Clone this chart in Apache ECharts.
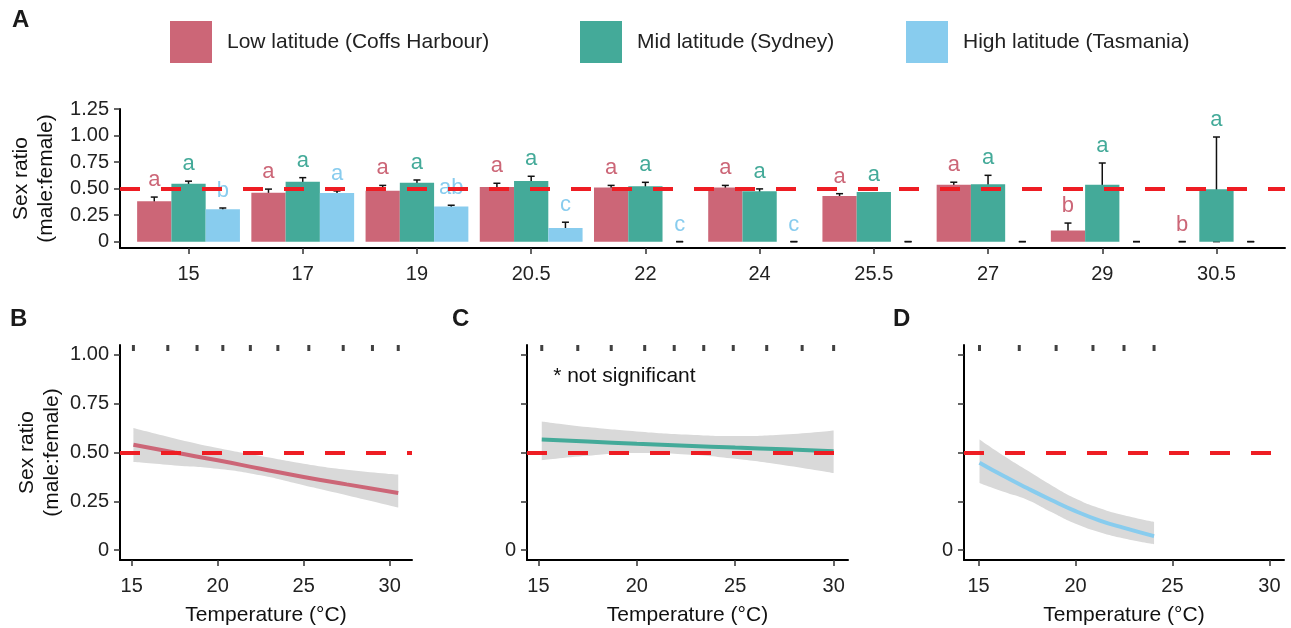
<!DOCTYPE html>
<html>
<head>
<meta charset="utf-8">
<title>Sex ratio vs incubation temperature</title>
<script src="https://cdn.jsdelivr.net/npm/echarts@6/dist/echarts.min.js"></script>
<style>
  html, body { margin: 0; padding: 0; background: #fff; }
  #chart { width: 1291px; height: 628px; }
</style>
</head>
<body>
<div id="chart"></div>
<script>
// ---- panel A: mean sex ratio per temperature ----
var tempLabels = ['15', '17', '19', '20.5', '22', '24', '25.5', '27', '29', '30.5'];
var groupNames = ['Low latitude (Coffs Harbour)', 'Mid latitude (Sydney)', 'High latitude (Tasmania)'];
var groupColors = ['#CC6677', '#44AA99', '#88CCEE'];

var lowMean = [0.38, 0.46, 0.48, 0.515, 0.51, 0.51, 0.43, 0.535, 0.105, 0];
var lowErr  = [0.04, 0.035, 0.05, 0.035, 0.02, 0.02, 0.022, 0.025, 0.07, 0];
var midMean = [0.545, 0.565, 0.556, 0.572, 0.522, 0.475, 0.468, 0.54, 0.537, 0.493];
var midErr  = [0.025, 0.038, 0.025, 0.044, 0.037, 0.022, null, 0.085, 0.204, 0.493];
var highMean = [0.305, 0.458, 0.33, 0.129, 0, 0, 0, 0, 0, 0];
var highErr  = [0.012, 0.02, 0.013, 0.054, 0, 0, 0, 0, 0, 0];

var lowLetters  = ['a', 'a', 'a', 'a', 'a', 'a', 'a', 'a', 'b', 'b'];
var midLetters  = ['a', 'a', 'a', 'a', 'a', 'a', 'a', 'a', 'a', 'a'];
var highLetters = ['b', 'a', 'ab', 'c', 'c', 'c', '', '', '', ''];

var yTicksA = [0, 0.25, 0.5, 0.75, 1, 1.25];

// ---- panels B-D: fitted sex ratio vs temperature ----
var tempB = [15.1, 17.5, 20, 22.5, 25, 27.5, 30.5];
var fitB  = [0.54, 0.50, 0.46, 0.417, 0.375, 0.337, 0.293];
var hiB   = [0.625, 0.572, 0.523, 0.482, 0.443, 0.412, 0.387];
var loB   = [0.451, 0.434, 0.417, 0.383, 0.332, 0.281, 0.218];
var rugB  = [15.1, 17.1, 18.8, 20.3, 21.9, 23.5, 25.3, 27.3, 29.0, 30.5];

var tempC = [15.17, 17.5, 20, 22.5, 25, 27.5, 30];
var fitC  = [0.566, 0.556, 0.545, 0.535, 0.525, 0.516, 0.507];
var hiC   = [0.659, 0.630, 0.608, 0.592, 0.584, 0.592, 0.613];
var loC   = [0.460, 0.483, 0.497, 0.490, 0.468, 0.435, 0.395];
var rugC  = [15.17, 17.0, 18.7, 20.4, 21.9, 23.4, 24.9, 26.6, 28.4, 30.0];

var tempD = [15.05, 16.25, 17.5, 18.75, 20, 21.25, 22.5, 24.05];
var fitD  = [0.448, 0.382, 0.318, 0.257, 0.20, 0.152, 0.114, 0.072];
var hiD   = [0.566, 0.486, 0.409, 0.333, 0.265, 0.215, 0.179, 0.145];
var loD   = [0.344, 0.30, 0.258, 0.195, 0.135, 0.092, 0.06, 0.031];
var rugD  = [15.05, 17.1, 19.0, 20.9, 22.5, 24.05];

var xTicksBottom = [15, 20, 25, 30];
var yTicksBottom = [0, 0.25, 0.5, 0.75, 1];

var FONT = 'Liberation Sans, Arial, Helvetica, sans-serif';
var TXT = '#222';
var TICK_FS = 20;

function fmtRatio(v) { return v === 0 ? '0' : v.toFixed(2); }

function refLine() {
  return {
    silent: true, symbol: 'none', animation: false,
    label: { show: false },
    lineStyle: { color: '#EE1D23', width: 4, type: [20, 21], opacity: 1 },
    emphasis: { disabled: true },
    data: [{ yAxis: 0.5 }]
  };
}

var axisLineStyle = { show: true, onZero: false, lineStyle: { color: '#000', width: 2 } };
var tickStyle = { show: true, length: 6, lineStyle: { color: '#333', width: 1.5 } };

var chart = echarts.init(document.getElementById('chart'));

var means = [lowMean, midMean, highMean];
var errs = [lowErr, midErr, highErr];
var letters = [lowLetters, midLetters, highLetters];
var offsets = [-0.3, 0, 0.3];

var series = [];

groupNames.forEach(function (name, s) {
  series.push({
    name: name, type: 'bar', xAxisIndex: 0, yAxisIndex: 0, z: 2,
    data: means[s].map(function (v, i) { return [i, v]; }),
    itemStyle: { color: groupColors[s] },
    barGap: '0%', barCategoryGap: '10%',
    markLine: s === 0 ? refLine() : undefined
  });
  // error bars (behind the bars)
  series.push({
    name: name + ' se', type: 'custom', xAxisIndex: 0, yAxisIndex: 0, z: 1, silent: true,
    data: means[s].map(function (v, i) { return [i + offsets[s], v]; }),
    encode: { x: 0, y: 1 },
    renderItem: function (params, api) {
      var i = params.dataIndex, e = errs[s][i];
      if (e == null) return null;
      var m = means[s][i];
      var top = api.coord([i + offsets[s], m + e]);
      var bot = api.coord([i + offsets[s], Math.max(0, m - e)]);
      var st = { stroke: '#111', lineWidth: 1.5 };
      return { type: 'group', children: [
        { type: 'line', shape: { x1: top[0], y1: top[1], x2: bot[0], y2: bot[1] }, style: st },
        { type: 'line', shape: { x1: top[0] - 3.5, y1: top[1], x2: top[0] + 3.5, y2: top[1] }, style: st },
        { type: 'line', shape: { x1: bot[0] - 3.5, y1: bot[1], x2: bot[0] + 3.5, y2: bot[1] }, style: st }
      ] };
    }
  });
  // significance letters
  series.push({
    name: name + ' letters', type: 'custom', xAxisIndex: 0, yAxisIndex: 0, z: 4, silent: true,
    data: means[s].map(function (v, i) { return [i + offsets[s], v]; }),
    encode: { x: 0, y: 1 },
    renderItem: function (params, api) {
      var i = params.dataIndex, t = letters[s][i];
      if (!t) return null;
      var e = errs[s][i] || 0;
      var p = api.coord([i + offsets[s], means[s][i] + e]);
      return {
        type: 'text', x: p[0], y: p[1] - 6,
        style: { text: t, fill: groupColors[s], fontSize: 22, fontFamily: FONT, align: 'center', verticalAlign: 'bottom' }
      };
    }
  });
});

var curves = [
  { x: tempB, fit: fitB, hi: hiB, lo: loB, rug: rugB, color: groupColors[0] },
  { x: tempC, fit: fitC, hi: hiC, lo: loC, rug: rugC, color: groupColors[1] },
  { x: tempD, fit: fitD, hi: hiD, lo: loD, rug: rugD, color: groupColors[2] }
];
var yMaxBottom = 1.05;
var SMOOTH = 0.5;

curves.forEach(function (c, k) {
  var ax = k + 1;
  // confidence band: lower edge + stacked width (value column first so it is the stacked one)
  series.push({
    type: 'line', xAxisIndex: ax, yAxisIndex: ax, z: 1, silent: true, stack: 'ci' + k,
    data: c.x.map(function (x, j) { return [c.lo[j], x]; }),
    encode: { x: 1, y: 0 },
    smooth: SMOOTH, showSymbol: false, lineStyle: { opacity: 0 }
  });
  series.push({
    type: 'line', xAxisIndex: ax, yAxisIndex: ax, z: 1, silent: true, stack: 'ci' + k,
    data: c.x.map(function (x, j) { return [c.hi[j] - c.lo[j], x]; }),
    encode: { x: 1, y: 0 },
    smooth: SMOOTH, showSymbol: false, lineStyle: { opacity: 0 },
    areaStyle: { color: '#D9D9D9', opacity: 1 }
  });
  var line = {
    type: 'line', xAxisIndex: ax, yAxisIndex: ax, z: 2, silent: true,
    data: c.x.map(function (x, j) { return [x, c.fit[j]]; }),
    smooth: SMOOTH, showSymbol: false,
    lineStyle: { color: c.color, width: 4 },
    itemStyle: { color: c.color },
    markLine: refLine()
  };
  if (k === 1) {
    line.markPoint = {
      silent: true, symbol: 'circle', symbolSize: 0,
      data: [{ coord: [15.75, 0.89] }],
      label: { show: true, position: 'right', distance: 0, formatter: '* not significant',
        fontSize: 21, fontFamily: FONT, color: '#111' }
    };
  }
  series.push(line);
  series.push({
    type: 'scatter', xAxisIndex: ax, yAxisIndex: ax, z: 3, silent: true, clip: false,
    data: c.rug.map(function (x) { return [x, yMaxBottom]; }),
    symbol: 'rect', symbolSize: [3, 6], symbolOffset: [0, 3],
    itemStyle: { color: '#111' }
  });
});

function bottomX(idx, min, max) {
  return {
    type: 'value', gridIndex: idx, min: min, max: max,
    name: 'Temperature (°C)', nameLocation: 'middle', nameGap: 45,
    nameTextStyle: { fontSize: 21, color: '#111', fontFamily: FONT },
    axisLine: axisLineStyle, axisTick: Object.assign({ customValues: xTicksBottom }, tickStyle),
    axisLabel: { customValues: xTicksBottom, fontSize: TICK_FS, color: TXT, margin: 16, fontFamily: FONT },
    splitLine: { show: false }
  };
}
function bottomY(idx, labelled) {
  return {
    type: 'value', gridIndex: idx, min: -0.05, max: yMaxBottom,
    name: labelled ? 'Sex ratio\n(male:female)' : '',
    nameLocation: 'middle', nameGap: 55,
    nameTextStyle: { fontSize: 21, lineHeight: 25, color: '#111', fontFamily: FONT },
    axisLine: axisLineStyle, axisTick: Object.assign({ customValues: yTicksBottom }, tickStyle),
    axisLabel: { customValues: labelled ? yTicksBottom : [0], formatter: fmtRatio,
      fontSize: TICK_FS, color: TXT, margin: 11, fontFamily: FONT },
    splitLine: { show: false }
  };
}

var option = {
  animation: false,
  backgroundColor: '#fff',
  textStyle: { fontFamily: FONT },
  title: [
    { text: 'A', left: 12, top: 8 },
    { text: 'B', left: 10, top: 307 },
    { text: 'C', left: 452, top: 307 },
    { text: 'D', left: 893, top: 307 }
  ].map(function (t) {
    t.padding = 0;
    t.textStyle = { fontSize: 24, fontWeight: 'bold', color: '#1a1a1a', fontFamily: FONT };
    return t;
  }),
  legend: [170, 580, 906].map(function (left, k) {
    return {
      data: [groupNames[k]], left: left, top: 21, padding: 0,
      itemWidth: 42, itemHeight: 42, icon: 'rect', selectedMode: false,
      textStyle: { fontSize: 21, color: '#222', fontFamily: FONT, padding: [0, 0, 0, 10] }
    };
  }),
  grid: [
    { left: 120, top: 109, width: 1165, height: 139 },
    { left: 120, top: 345, width: 292, height: 215 },
    { left: 527, top: 345, width: 321, height: 215 },
    { left: 964, top: 345, width: 320, height: 215 }
  ],
  xAxis: [
    {
      type: 'value', gridIndex: 0, min: -0.6, max: 9.6,
      axisLine: axisLineStyle,
      axisTick: Object.assign({ customValues: tempLabels.map(function (t, i) { return i; }) }, tickStyle),
      axisLabel: {
        customValues: tempLabels.map(function (t, i) { return i; }),
        formatter: function (v) { return tempLabels[Math.round(v)]; },
        fontSize: TICK_FS, color: TXT, margin: 16, fontFamily: FONT
      },
      splitLine: { show: false }
    },
    bottomX(1, 14.32, 31.3),
    bottomX(2, 14.42, 30.73),
    bottomX(3, 14.25, 30.75)
  ],
  yAxis: [
    {
      type: 'value', gridIndex: 0, min: -0.06, max: 1.25,
      name: 'Sex ratio\n(male:female)', nameLocation: 'middle', nameGap: 55,
      nameTextStyle: { fontSize: 21, lineHeight: 25, color: '#111', fontFamily: FONT },
      axisLine: axisLineStyle,
      axisTick: Object.assign({ customValues: yTicksA }, tickStyle),
      axisLabel: { customValues: yTicksA, formatter: fmtRatio, fontSize: TICK_FS, color: TXT, margin: 11, fontFamily: FONT },
      splitLine: { show: false }
    },
    bottomY(1, true),
    bottomY(2, false),
    bottomY(3, false)
  ],
  series: series
};

chart.setOption(option);
</script>
</body>
</html>
